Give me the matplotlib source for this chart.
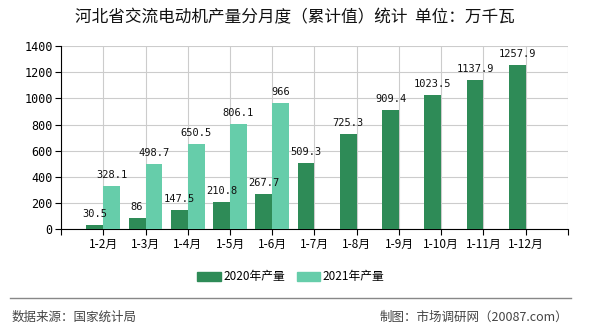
import matplotlib
matplotlib.use("Agg")

import numpy as np
import matplotlib.pyplot as plt
from matplotlib.lines import Line2D

plt.rcParams['font.family'] = ['Noto Sans CJK SC', 'DejaVu Sans']

months = ["1-2月", "1-3月", "1-4月", "1-5月", "1-6月", "1-7月",
          "1-8月", "1-9月", "1-10月", "1-11月", "1-12月"]
prod_2020 = [30.5, 86, 147.5, 210.8, 267.7, 509.3, 725.3, 909.4, 1023.5, 1137.9, 1257.9]
prod_2021 = [328.1, 498.7, 650.5, 806.1, 966]
labels_2020 = ["30.5", "86", "147.5", "210.8", "267.7", "509.3",
               "725.3", "909.4", "1023.5", "1137.9", "1257.9"]
labels_2021 = ["328.1", "498.7", "650.5", "806.1", "966"]

c2020 = "#2e8b57"
c2021 = "#66cdaa"

fig = plt.figure(figsize=(5.9, 3.3), dpi=100)
ax = fig.add_axes([0.1034, 0.3052, 0.8593, 0.5554])

x = np.arange(len(months))
w = 0.4
ax.bar(x[:len(prod_2020)] - w / 2, prod_2020, w, color=c2020, zorder=3)
ax.bar(x[:len(prod_2021)] + w / 2, prod_2021, w, color=c2021, zorder=3)

# value labels above each bar
num_font = dict(family="DejaVu Sans Mono", fontsize=7.5, color="#111111")
for i, (v, t) in enumerate(zip(prod_2020, labels_2020)):
    ax.text(x[i] - w / 2, v + 45, t, ha="center", va="bottom", **num_font)
for i, (v, t) in enumerate(zip(prod_2021, labels_2021)):
    ax.text(x[i] + w / 2, v + 45, t, ha="center", va="bottom", **num_font)

ax.set_xlim(-1, len(months))
ax.set_ylim(0, 1400)
ax.set_yticks(range(0, 1401, 200))
ax.set_xticks(range(-1, len(months) + 1))
ax.set_xticklabels([""] + months + [""], fontsize=8.5)
ax.tick_params(axis="y", labelsize=8.5, length=4, width=0.8, pad=2)
ax.tick_params(axis="x", length=4, width=0.8, pad=2)
for lab in ax.get_yticklabels():
    lab.set_family("DejaVu Sans Mono")

ax.grid(True, color="#cccccc", linewidth=0.8, zorder=0)
ax.set_axisbelow(True)
for s in ["top", "right"]:
    ax.spines[s].set_visible(False)
ax.spines["left"].set_color("black")
ax.spines["bottom"].set_color("black")

fig.text(0.5, 0.945, "河北省交流电动机产量分月度（累计值）统计  单位：万千瓦",
         ha="center", va="center", fontsize=12, color="#111111")

handles = [plt.Rectangle((0, 0), 1, 1, color=c2020),
           plt.Rectangle((0, 0), 1, 1, color=c2021)]
fig.legend(handles, ["2020年产量", "2021年产量"], loc="center",
           bbox_to_anchor=(0.493, 0.161), ncol=2, frameon=False, fontsize=8.5,
           handlelength=2.0, handleheight=0.8, columnspacing=1.0, handletextpad=0.2)

fig.add_artist(Line2D([0.017, 0.968], [0.097, 0.097], color="#888888", linewidth=1))
fig.text(0.02, 0.039, "数据来源：国家统计局", ha="left", va="center", fontsize=9, color="#444444")
fig.text(0.963, 0.039, "制图：市场调研网（20087.com）", ha="right", va="center", fontsize=9, color="#444444")

fig.savefig("out.png", dpi=100)
